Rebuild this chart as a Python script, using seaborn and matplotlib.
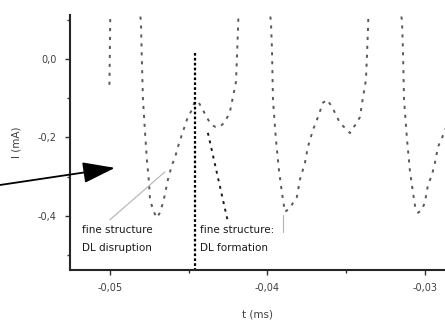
import matplotlib
matplotlib.use("Agg")
import matplotlib.pyplot as plt
from matplotlib.ticker import MultipleLocator
import seaborn as sns
import pandas as pd

# ---- data ----
t_ms = [-0.05003, -0.04997, -0.04898,
        -0.04803, -0.04797, -0.04790, -0.04778, -0.04765, -0.04752, -0.04746,
        -0.04727, -0.04702, -0.04683, -0.04663, -0.04651, -0.04632, -0.04606,
        -0.04587, -0.04568, -0.04537, -0.04505, -0.04479, -0.04460, -0.04435,
        -0.04410, -0.04384, -0.04359, -0.04333, -0.04302, -0.04270, -0.04238,
        -0.04219, -0.04200, -0.04194, -0.04187, -0.04181, -0.04079,
        -0.03978, -0.03971, -0.03965, -0.03946, -0.03927, -0.03908, -0.03889,
        -0.03857, -0.03838, -0.03813, -0.03794, -0.03762, -0.03743, -0.03711,
        -0.03679, -0.03648, -0.03622, -0.03590, -0.03571, -0.03540, -0.03508,
        -0.03476, -0.03457, -0.03432, -0.03413, -0.03394, -0.03375, -0.03368,
        -0.03362, -0.03356, -0.03248,
        -0.03146, -0.03140, -0.03133, -0.03114, -0.03095, -0.03076, -0.03063,
        -0.03044, -0.03019, -0.03000, -0.02981, -0.02956, -0.02937, -0.02917,
        -0.02892, -0.02867]
I_mA = [-0.066, 0.125, 0.303,
        0.099, -0.003, -0.104, -0.181, -0.257, -0.313, -0.354,
        -0.385, -0.405, -0.392, -0.367, -0.346, -0.308, -0.270,
        -0.252, -0.224, -0.186, -0.148, -0.130, -0.107, -0.112,
        -0.130, -0.150, -0.166, -0.173, -0.173, -0.161, -0.135,
        -0.097, -0.059, -0.003, 0.074, 0.150, 0.303,
        0.099, 0.023, -0.104, -0.206, -0.283, -0.341, -0.390,
        -0.380, -0.367, -0.352, -0.308, -0.265, -0.224, -0.181,
        -0.148, -0.112, -0.104, -0.122, -0.138, -0.163, -0.176,
        -0.189, -0.176, -0.163, -0.148, -0.099, -0.054, 0.010,
        0.074, 0.150, 0.303,
        0.099, 0.023, -0.104, -0.206, -0.288, -0.341, -0.375,
        -0.392, -0.385, -0.364, -0.321, -0.296, -0.265, -0.224,
        -0.201, -0.176]

xticks = [-0.05, -0.04, -0.03]
xticklabels = ["-0,05", "-0,04", "-0,03"]
yticks = [0.0, -0.2, -0.4]
yticklabels = ["0,0", "-0,2", "-0,4"]

label_left = "fine structure\nDL disruption"
label_right = "fine structure:\nDL formation"

df = pd.DataFrame({"t": t_ms, "I": I_mA})

sns.set_theme(style="white")
plt.rcParams["font.family"] = ["DejaVu Sans"]

fig = plt.figure(figsize=(4.45, 3.24), dpi=100)
ax = fig.add_axes([0.157, 0.167, 0.843, 0.787])

sns.lineplot(data=df, x="t", y="I", sort=False, ax=ax, color="0.35",
             lw=1.4, linestyle=(0, (1.6, 3.0)))

ax.set_xlim(-0.05254, -0.02873)
ax.set_ylim(-0.5376, 0.112)

for s in ["top", "right"]:
    ax.spines[s].set_visible(False)
for s in ["left", "bottom"]:
    ax.spines[s].set_color("0.15")
    ax.spines[s].set_linewidth(1.5)

ax.set_xticks(xticks)
ax.set_xticklabels(xticklabels)
ax.set_yticks(yticks)
ax.set_yticklabels(yticklabels)
ax.xaxis.set_minor_locator(MultipleLocator(0.005))
ax.yaxis.set_minor_locator(MultipleLocator(0.1))
ax.tick_params(which="major", direction="out", length=3.5, width=1,
               color="0.2", labelsize=7, labelcolor="0.25", pad=6,
               bottom=True, left=True)
ax.tick_params(which="minor", direction="out", length=2, width=1,
               color="0.2", bottom=True, left=True)

ax.set_xlabel("t (ms)", fontsize=7.5, color="0.25", labelpad=12)
ax.set_ylabel("I (mA)", fontsize=7.5, color="0.25", labelpad=12)

# vertical dotted marker line
ax.plot([-0.0446, -0.0446], [0.0153, -0.5376], color="black", lw=1.6,
        linestyle=(0, (1.2, 1.0)))

# annotation lines
ax.plot([-0.0500, -0.04651], [-0.41, -0.288], color="0.7", lw=0.8)
ax.plot([-0.04378, -0.04251], [-0.1885, -0.415], color="0.1", lw=1.4,
        linestyle=(0, (1.5, 2.5)))
ax.plot([-0.03902, -0.03902], [-0.397, -0.44], color="0.7", lw=0.8)

ax.text(-0.05178, -0.422, label_left, fontsize=7.5, va="top", ha="left",
        color="0.1", linespacing=2.0)
ax.text(-0.04429, -0.422, label_right, fontsize=7.5, va="top", ha="left",
        color="0.1", linespacing=2.0)

# arrow from the left margin
ax.annotate("", xy=(-0.04968, -0.2777), xytext=(0, 324 - 185),
            textcoords="figure pixels", annotation_clip=False,
            arrowprops=dict(arrowstyle="-|>,head_length=2.0,head_width=0.65",
                            mutation_scale=10, color="black", lw=1.3,
                            shrinkA=0, shrinkB=0))

fig.savefig("out.png", dpi=100)
